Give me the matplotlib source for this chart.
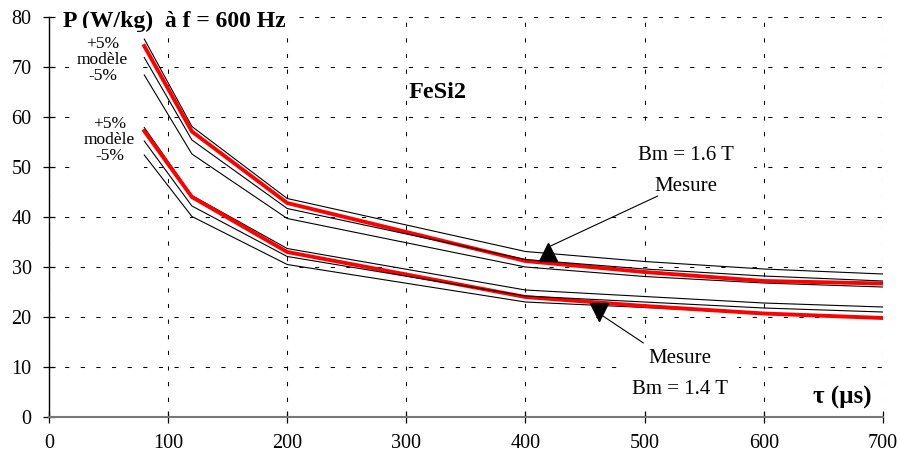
import matplotlib
matplotlib.use("Agg")
import matplotlib.pyplot as plt

plt.rcParams['font.family'] = ['Liberation Serif', 'DejaVu Serif']

# durée tau (µs)
tau = [80, 120, 200, 400, 500, 600, 700]

# Bm = 1.6 T
mes_16 = [74.2, 57.1, 42.8, 31.2, 29.0, 27.2, 26.7]
mod_16 = [71.9, 55.4, 41.7, 31.5, 29.6, 28.2, 27.2]
plus_16 = [75.6, 58.1, 43.7, 33.1, 31.1, 29.6, 28.6]
moins_16 = [68.4, 52.6, 39.7, 30.0, 28.1, 26.8, 26.0]

# Bm = 1.4 T
mes_14 = [57.2, 44.0, 33.0, 24.0, 22.2, 20.7, 19.8]
mod_14 = [55.2, 42.2, 32.1, 24.2, 23.0, 21.8, 21.0]
plus_14 = [57.9, 44.3, 33.7, 25.4, 24.1, 22.8, 22.0]
moins_14 = [52.4, 40.1, 30.5, 23.0, 21.9, 20.7, 19.9]

x_ticks = [0, 100, 200, 300, 400, 500, 600, 700]
y_ticks = [0, 10, 20, 30, 40, 50, 60, 70, 80]

fig, ax = plt.subplots(figsize=(9, 4.57), dpi=100)
fig.subplots_adjust(left=0.0544, right=0.981, bottom=0.0875, top=0.9628)

# courbes modèle +/- 5% (traits fins) puis mesures (rouge)
for serie in (plus_16, moins_16, plus_14, moins_14):
    ax.plot(tau, serie, color="black", lw=0.8, zorder=3)
ax.plot(tau, mes_16, color="#ff0000", lw=2.8, zorder=4)
ax.plot(tau, mes_14, color="#ff0000", lw=2.8, zorder=4)
ax.plot(tau, mod_16, color="black", lw=0.8, zorder=5)
ax.plot(tau, mod_14, color="black", lw=0.8, zorder=5)

ax.set_xlim(0, 700)
ax.set_ylim(0, 80)
ax.set_xticks(x_ticks)
ax.set_yticks(y_ticks)
ax.tick_params(axis='both', direction='inout', length=9, width=0.9, labelsize=14.5, colors="black")
ax.tick_params(axis='y', pad=8)
ax.tick_params(axis='x', pad=8)

# grille pointillée
ax.grid(True, color="black", lw=0.75, linestyle=(0, (4, 11)), zorder=1)
ax.set_axisbelow(True)

ax.spines["top"].set_visible(False)
ax.spines["right"].set_visible(False)
ax.spines["bottom"].set_color("#777777")
ax.spines["bottom"].set_linewidth(1.5)
ax.spines["left"].set_color("black")
ax.spines["left"].set_linewidth(1.0)
ax.spines["bottom"].set_zorder(6)
ax.spines["left"].set_zorder(6)

box = dict(facecolor="white", edgecolor="none", pad=2)

ax.text(12, 79.2, "P (W/kg)  à f = 600 Hz", fontsize=17, fontweight="bold",
        ha="left", va="center", bbox=box, zorder=2.5)
ax.text(45, 71.4, "+5%\nmodèle\n-5%", fontsize=12.5, ha="center", va="center",
        linespacing=1.0, bbox=dict(facecolor="white", edgecolor="none", pad=6), zorder=2.5)
ax.text(51, 55.4, "+5%\nmodèle\n-5%", fontsize=12.5, ha="center", va="center",
        linespacing=1.0, bbox=dict(facecolor="white", edgecolor="none", pad=6), zorder=2.5)
ax.text(326, 65, "FeSi2", fontsize=17.5, fontweight="bold", ha="center", va="center")
ax.text(666, 4, "τ (µs)", fontsize=18, fontweight="bold", ha="center", va="center")

# mesure Bm = 1.6 T
ax.text(535, 49.2, "Bm = 1.6 T\n\nMesure", fontsize=15, ha="center", va="center",
        linespacing=0.75, bbox=dict(facecolor="white", edgecolor="none", pad=14), zorder=2.5)
ax.plot([419], [33.1], marker="^", color="black", markersize=13, zorder=7)
ax.annotate("", xy=(421, 34.2), xytext=(511, 44.2),
            arrowprops=dict(arrowstyle="-", color="black", lw=0.8, shrinkA=0, shrinkB=0), zorder=7)

# mesure Bm = 1.4 T
ax.text(530, 8.6, "Mesure\n\nBm = 1.4 T", fontsize=15, ha="center", va="center",
        linespacing=0.75, bbox=dict(facecolor="white", edgecolor="none", pad=8), zorder=2.5)
ax.plot([462], [21.0], marker="v", color="black", markersize=13, zorder=7)
ax.annotate("", xy=(465, 20.2), xytext=(499, 14.8),
            arrowprops=dict(arrowstyle="-", color="black", lw=0.8, shrinkA=0, shrinkB=0), zorder=7)

fig.savefig("out.png", dpi=100)
